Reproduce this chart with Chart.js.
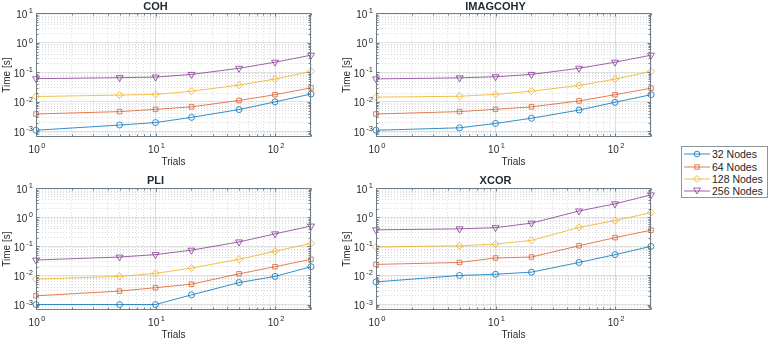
<!DOCTYPE html>
<html>
<head>
<meta charset="utf-8">
<script src="https://cdn.jsdelivr.net/npm/chart.js@4.4.1/dist/chart.umd.min.js"></script>
<style>
  body { margin: 0; background: #fff; width: 770px; height: 340px; overflow: hidden; position: relative; font-family: 'Liberation Sans', Arial, Helvetica, sans-serif; }
  canvas { position: absolute; }
  #legend { position: absolute; left: 681px; top: 146px; width: 87px; height: 52px; border: 1px solid #8c959c; background: #fff; box-sizing: border-box; padding-top: 1px; }
  .row { height: 12.4px; display: flex; align-items: center; font-size: 10.5px; color: #1f1f1f; white-space: nowrap; }
  .row svg { margin-right: 2px; flex: none; }
</style>
</head>
<body>
<canvas id="cohChart" width="330" height="168" style="left:0;top:0"></canvas>
<canvas id="imagChart" width="330" height="168" style="left:340px;top:0"></canvas>
<canvas id="pliChart" width="330" height="172" style="left:0;top:168px"></canvas>
<canvas id="xcorChart" width="330" height="172" style="left:340px;top:168px"></canvas>
<div id="legend"></div>
<script>
// trials on the x axis
let trials = [1, 5, 10, 20, 50, 100, 200];

// series names, colours and markers
let seriesNames = ['32 Nodes', '64 Nodes', '128 Nodes', '256 Nodes'];
let seriesColors = ['rgba(0,114,189,0.8)', 'rgba(217,83,25,0.75)', 'rgba(237,177,32,0.8)', 'rgba(126,47,142,0.75)'];
let seriesMarkers = ['circle', 'rect', 'rectRot', 'triangle'];

// COH timings [s]
let coh32 = [1.1e-3, 1.65e-3, 2.0e-3, 3.0e-3, 5.5e-3, 1.0e-2, 1.85e-2];
let coh64 = [3.9e-3, 4.7e-3, 5.6e-3, 6.8e-3, 1.12e-2, 1.75e-2, 3.0e-2];
let coh128 = [1.52e-2, 1.7e-2, 1.8e-2, 2.3e-2, 3.7e-2, 5.9e-2, 0.108];
let coh256 = [6.1e-2, 6.6e-2, 6.9e-2, 8.5e-2, 0.137, 0.22, 0.38];

// IMAGCOHY timings [s]
let imag32 = [1.1e-3, 1.33e-3, 1.87e-3, 2.8e-3, 5.3e-3, 9.7e-3, 1.75e-2];
let imag64 = [3.9e-3, 4.7e-3, 5.6e-3, 6.8e-3, 1.08e-2, 1.75e-2, 2.9e-2];
let imag128 = [1.45e-2, 1.55e-2, 1.8e-2, 2.3e-2, 3.6e-2, 5.9e-2, 0.108];
let imag256 = [6.0e-2, 6.5e-2, 7.1e-2, 8.5e-2, 0.137, 0.22, 0.38];

// PLI timings [s]
let pli32 = [1.0e-3, 1.0e-3, 1.0e-3, 2.15e-3, 5.7e-3, 9.3e-3, 2.0e-2];
let pli64 = [2.0e-3, 2.9e-3, 3.8e-3, 5.0e-3, 1.14e-2, 2.0e-2, 3.6e-2];
let pli128 = [7.5e-3, 9.3e-3, 1.18e-2, 1.8e-2, 3.6e-2, 6.8e-2, 0.127];
let pli256 = [3.4e-2, 4.3e-2, 5.2e-2, 7.4e-2, 0.142, 0.27, 0.50];

// XCOR timings [s]
let xcor32 = [6.0e-3, 1.0e-2, 1.1e-2, 1.3e-2, 2.8e-2, 5.2e-2, 0.1];
let xcor64 = [2.4e-2, 2.8e-2, 4.0e-2, 4.3e-2, 0.105, 0.20, 0.36];
let xcor128 = [9.5e-2, 0.105, 0.12, 0.16, 0.45, 0.77, 1.45];
let xcor256 = [0.37, 0.40, 0.44, 0.63, 1.65, 2.9, 5.9];

// axis limits and labelled decades
let xMin = 1, xMax = 200;
let yMin = 6.5e-4, yMax = 10;
let xDecades = [0, 1, 2];
let yDecades = [-3, -2, -1, 0, 1];

let fontFamily = "'Liberation Sans', Arial, Helvetica, sans-serif";
let textColor = '#222b33';
let axisColor = '#6f7c86';

function isMajor(v) {
    let l = Math.log10(v);
    return Math.abs(l - Math.round(l)) < 1e-6;
}

// ticks at 1..9 x 10^k inside the range
function logTicks(axis) {
    let out = [];
    let lo = Math.floor(Math.log10(axis.min));
    let hi = Math.ceil(Math.log10(axis.max));
    for (let e = lo; e <= hi; e++) {
        for (let m = 1; m < 10; m++) {
            let v = parseFloat((m * Math.pow(10, e)).toPrecision(6));
            if (v >= axis.min * 0.999 && v <= axis.max * 1.001) out.push({ value: v });
        }
    }
    axis.ticks = out;
}

let gridColor = (ctx) => ctx.tick && isMajor(ctx.tick.value) ? 'rgba(0,0,0,0.12)' : 'rgba(0,0,0,0.14)';
let gridDash = (ctx) => ctx.tick && isMajor(ctx.tick.value) ? [] : [1, 2];

// draws "10" with a raised exponent; anchor 'right' (y axis) or 'center' (x axis)
function drawPow(c, e, x, y, anchor) {
    let base = '10';
    let exp = String(e);
    c.font = '10px ' + fontFamily;
    let wb = c.measureText(base).width;
    c.font = '7.5px ' + fontFamily;
    let we = c.measureText(exp).width;
    let gap = 1.5;
    let total = wb + gap + we;
    let x0 = anchor === 'right' ? x - total : x - total / 2;
    c.textBaseline = 'alphabetic';
    c.textAlign = 'left';
    c.font = '10px ' + fontFamily;
    c.fillText(base, x0, y + 3.5);
    c.font = '7.5px ' + fontFamily;
    c.fillText(exp, x0 + wb + gap, y - 1);
}

// MATLAB-like box, inward ticks and power-of-ten labels
let matlabAxes = {
    id: 'matlabAxes',
    afterDraw(chart) {
        let a = chart.chartArea;
        let c = chart.ctx;
        let xs = chart.scales.x, ys = chart.scales.y;
        let L = Math.round(a.left) + 0.5, R = Math.round(a.right) - 0.5;
        let T = Math.round(a.top) + 0.5, B = Math.round(a.bottom) - 0.5;
        c.save();
        c.strokeStyle = axisColor;
        c.lineWidth = 1;
        c.beginPath();
        xs.ticks.forEach(t => {
            let px = Math.round(xs.getPixelForValue(t.value)) + 0.5;
            let len = isMajor(t.value) ? 3 : 2;
            c.moveTo(px, B); c.lineTo(px, B - len);
            c.moveTo(px, T); c.lineTo(px, T + len);
        });
        ys.ticks.forEach(t => {
            let py = Math.round(ys.getPixelForValue(t.value)) + 0.5;
            let len = isMajor(t.value) ? 3 : 2;
            c.moveTo(L, py); c.lineTo(L + len, py);
            c.moveTo(R, py); c.lineTo(R - len, py);
        });
        c.stroke();
        c.strokeRect(L, T, R - L, B - T);

        c.fillStyle = textColor;
        xDecades.forEach(e => {
            let px = xs.getPixelForValue(Math.pow(10, e));
            drawPow(c, e, px + 1, a.bottom + 12, 'center');
        });
        yDecades.forEach(e => {
            let py = ys.getPixelForValue(Math.pow(10, e));
            drawPow(c, e, a.left - 3, py + 1, 'right');
        });
        c.restore();
    }
};

function makeChart(id, title, series, topRow) {
    let datasets = series.map((vals, i) => ({
        label: seriesNames[i],
        data: trials.map((t, j) => ({ x: t, y: vals[j] })),
        borderColor: seriesColors[i],
        backgroundColor: 'rgba(0,0,0,0)',
        borderWidth: 1,
        pointStyle: seriesMarkers[i],
        pointRotation: seriesMarkers[i] === 'triangle' ? 180 : 0,
        pointRadius: [3, 3.2, 3.6, 4][i],
        pointBorderWidth: 1,
        pointBorderColor: seriesColors[i],
        pointBackgroundColor: 'rgba(0,0,0,0)',
        tension: 0,
        clip: false
    }));

    return new Chart(document.getElementById(id).getContext('2d'), {
        type: 'line',
        data: { datasets: datasets },
        plugins: [matlabAxes],
        options: {
            responsive: false,
            animation: false,
            devicePixelRatio: 1,
            layout: { padding: { right: 19, left: 0, top: 0, bottom: 0 } },
            plugins: {
                legend: { display: false },
                tooltip: { enabled: false },
                title: {
                    display: true,
                    text: title,
                    color: textColor,
                    font: { family: fontFamily, size: 11, weight: 'bold' },
                    padding: topRow ? { top: 0, bottom: 0 } : { top: 6, bottom: 1 }
                }
            },
            scales: {
                x: {
                    type: 'logarithmic',
                    min: xMin,
                    max: xMax,
                    afterBuildTicks: logTicks,
                    afterFit: (axis) => { axis.height = topRow ? 31 : 30; },
                    grid: { color: gridColor, drawTicks: false },
                    border: { display: false, dash: gridDash },
                    ticks: { autoSkip: false, maxRotation: 0, padding: 0, callback: () => '' },
                    title: {
                        display: true,
                        text: 'Trials',
                        color: textColor,
                        font: { family: fontFamily, size: 10 },
                        padding: { top: 0, bottom: topRow ? 0 : -1 }
                    }
                },
                y: {
                    type: 'logarithmic',
                    min: yMin,
                    max: yMax,
                    afterBuildTicks: logTicks,
                    afterFit: (axis) => { axis.width = 36; },
                    grid: { color: gridColor, drawTicks: false },
                    border: { display: false, dash: gridDash },
                    ticks: { autoSkip: false, padding: 0, callback: () => '' },
                    title: {
                        display: true,
                        text: 'Time [s]',
                        color: textColor,
                        font: { family: fontFamily, size: 10 },
                        padding: { top: 1, bottom: 0 }
                    }
                }
            }
        }
    });
}

makeChart('cohChart', 'COH', [coh32, coh64, coh128, coh256], true);
makeChart('imagChart', 'IMAGCOHY', [imag32, imag64, imag128, imag256], true);
makeChart('pliChart', 'PLI', [pli32, pli64, pli128, pli256], false);
makeChart('xcorChart', 'XCOR', [xcor32, xcor64, xcor128, xcor256], false);

// legend: line with marker, then the series name
let markerSvg = {
    circle: (c) => '<circle cx="15" cy="5" r="2.8" fill="none" stroke="' + c + '"/>',
    rect: (c) => '<rect x="12.8" y="2.8" width="4.4" height="4.4" fill="none" stroke="' + c + '"/>',
    rectRot: (c) => '<polygon points="15,1.5 18.5,5 15,8.5 11.5,5" fill="none" stroke="' + c + '"/>',
    triangle: (c) => '<polygon points="11.5,2 18.5,2 15,8" fill="none" stroke="' + c + '"/>'
};
let legendBox = document.getElementById('legend');
seriesNames.forEach((name, i) => {
    let c = seriesColors[i];
    let row = document.createElement('div');
    row.className = 'row';
    row.innerHTML = '<svg width="28" height="10"><line x1="2" y1="5" x2="28" y2="5" stroke="' + c + '" stroke-width="1"/>' +
        markerSvg[seriesMarkers[i]](c) + '</svg><span>' + name + '</span>';
    legendBox.appendChild(row);
});
</script>
</body>
</html>
